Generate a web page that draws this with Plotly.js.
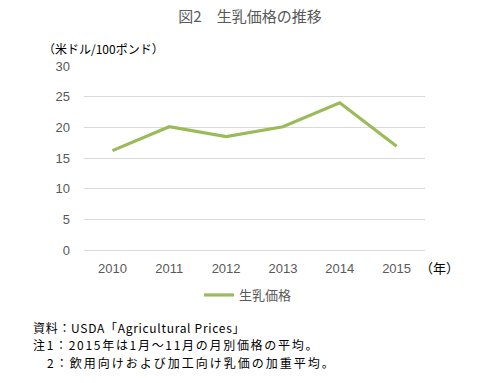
<!DOCTYPE html>
<html>
<head>
<meta charset="utf-8">
<script src="https://cdn.plot.ly/plotly-3.0.1.min.js"></script>
<style>html,body{margin:0;padding:0;background:#fff;}#chart{width:500px;height:383px;}</style>
</head>
<body>
<div id="chart"></div>
<script>
const years = ["2010", "2011", "2012", "2013", "2014", "2015"];
const milkPrice = [16.2, 20.1, 18.5, 20.1, 24.0, 16.9];
const seriesName = "生乳価格";
const chartTitle = "図2　生乳価格の推移";
const yUnit = "（米ドル/100ポンド）";
const xUnit = "（年）";
const notes = [
  "資料：USDA「Agricultural Prices」",
  "注1：2015年は1月～11月の月別価格の平均。",
  "　2：飲用向けおよび加工向け乳価の加重平均。"
];

const L = 84, R = 425, T = 66, B = 250;
const W = 500, H = 383;
const px = x => (x - L) / (R - L);
const py = y => (B - y) / (B - T);

const gray = "#595959";
const jp = "'Noto Sans CJK JP', 'Noto Sans', sans-serif";
const num = "'Liberation Sans', Arial, sans-serif";

const annotations = [
  {text: yUnit, x: px(41), y: py(49), xanchor: "left", yanchor: "middle",
   font: {family: jp, size: 12, color: "#000"}},
  {text: xUnit, x: px(418), y: py(267), xanchor: "left", yanchor: "middle",
   font: {family: jp, size: 13, color: "#000"}}
];
const noteY = [327, 344, 362];
const noteSpacing = [0.7, 1.7, 2.0];
notes.forEach((t, i) => annotations.push({
  text: t, x: px(31), y: py(noteY[i]), xanchor: "left", yanchor: "middle",
  font: {family: jp, size: 12, color: "#000"}
}));
annotations.forEach(a => { a.xref = "paper"; a.yref = "paper"; a.showarrow = false; });

const data = [{
  x: years, y: milkPrice, name: seriesName, type: "scatter", mode: "lines",
  line: {color: "#9BBB59", width: 3.2}, showlegend: true
}];

const layout = {
  width: W, height: H,
  margin: {l: L, r: W - R, t: T, b: H - B, pad: 0},
  paper_bgcolor: "#fff", plot_bgcolor: "#fff",
  title: {text: chartTitle, x: 0.5, xref: "container", xanchor: "center", y: 1 - 17 / H, yanchor: "middle",
          font: {family: jp, size: 15, color: gray}},
  xaxis: {type: "category", range: [-0.5, 5.5], showgrid: false, zeroline: false,
          showline: false, ticks: "", tickfont: {family: num, size: 13, color: gray},
          ticklabelstandoff: 9, fixedrange: true},
  yaxis: {range: [0, 30], dtick: 5, tick0: 0, showgrid: true, gridcolor: "#D9D9D9", gridwidth: 1,
          zeroline: true, zerolinecolor: "#D9D9D9", zerolinewidth: 1, showline: false, ticks: "",
          tickfont: {family: num, size: 13, color: gray}, ticklabelstandoff: 13, fixedrange: true},
  showlegend: true,
  legend: {orientation: "h", x: px(248), xanchor: "center", y: py(295), yanchor: "middle",
           font: {family: jp, size: 13, color: gray}, itemwidth: 30, bgcolor: "rgba(0,0,0,0)"},
  annotations: annotations
};

Plotly.newPlot("chart", data, layout, {displayModeBar: false, staticPlot: true}).then(gd => {
  const anns = gd.querySelectorAll(".annotation");
  anns.forEach(a => {
    const idx = +a.getAttribute("data-index");
    if (idx >= 2) {
      const t = a.querySelector("text");
      if (t) {
        const bb = t.getBBox();
        t.setAttribute("text-anchor", "start");
        t.setAttribute("x", bb.x);
        t.style.letterSpacing = noteSpacing[idx - 2] + "px";
      }
    }
  });
});
</script>
</body>
</html>
